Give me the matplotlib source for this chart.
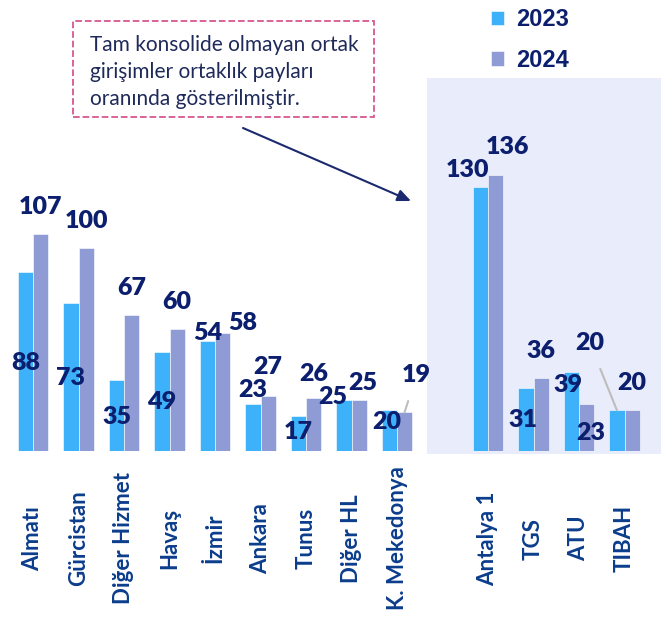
import numpy as np
import matplotlib
matplotlib.use('Agg')
import matplotlib.pyplot as plt
from matplotlib.patches import Rectangle

# veriler
kategoriler = ['Almatı', 'Gürcistan', 'Diğer Hizmet', 'Havaş', 'İzmir', 'Ankara',
               'Tunus', 'Diğer HL', 'K. Mekedonya',
               'Antalya 1', 'TGS', 'ATU', 'TIBAH']
deger_2023 = [88, 73, 35, 49, 54, 23, 17, 25, 20, 130, 31, 39, 20]
deger_2024 = [107, 100, 67, 60, 58, 27, 26, 25, 19, 136, 36, 23, 20]
seri_adlari = ['2023', '2024']
not_metni = 'Tam konsolide olmayan ortak\ngirişimler ortaklık payları\noranında gösterilmiştir.'

# etiket kaydırmaları (piksel), çubuk tepesine göre
ofs_2023 = [(0, -91), (0, -75), (0, -37), (0, -50), (0, 8), (0, 14), (0, -16),
            (-11, 3), (-3, -12), (-13, 17), (-3, -32), (-4, -13), (-27, 67)]
ofs_2024 = [(0, 27), (0, 27), (0, 27), (0, 27), (20, 10), (0, 29), (0, 24),
            (4, 17), (12, 37), (12, 28), (0, 27), (4, -29), (0, 27)]
cizgili_2023 = [12]   # TIBAH
cizgili_2024 = [8]    # K. Mekedonya

renk_2023 = '#3db2fb'
renk_2024 = '#8e9bd4'
lacivert = '#0c1f6e'
eksen_mavi = '#0b3d8c'

W, H = 661, 637
fig = plt.figure(figsize=(W / 100, H / 100), dpi=100)
ax = fig.add_axes([0, 186 / H, 1, 451 / H])
ax.patch.set_alpha(0)

# grup konumları: ilk 9 yan yana, sonra bir boşluk
x = np.array(list(range(9)) + list(range(10, 14)), dtype=float)
w = 0.33

# vurgulu alan
ax.add_patch(Rectangle((427 / W, (H - 454) / H), 1 - 427 / W, 376 / H,
                       transform=fig.transFigure, facecolor='#e8ecfb',
                       edgecolor='none', zorder=0, clip_on=False))

b1 = ax.bar(x - w / 2, deger_2023, w, color=renk_2023, edgecolor='white', linewidth=0.4, zorder=2, label=seri_adlari[0])
b2 = ax.bar(x + w / 2, deger_2024, w, color=renk_2024, edgecolor='white', linewidth=0.4, zorder=2, label=seri_adlari[1])

etiket_font = dict(family='Lato', fontsize=18, fontweight='heavy', color=lacivert)
for i in range(len(x)):
    for xs, val, ofs, cz in ((x[i] - w / 2, deger_2023[i], ofs_2023[i], cizgili_2023),
                              (x[i] + w / 2, deger_2024[i], ofs_2024[i], cizgili_2024)):
        ap = None
        if i in cz:
            ap = dict(arrowstyle='-', color='#bdbdbd', lw=1.5, shrinkA=9, shrinkB=0)
        ax.annotate(str(val), xy=(xs, val), xytext=ofs, textcoords='offset pixels',
                    ha='center', va='center', zorder=3, arrowprops=ap, **etiket_font)

ax.set_xlim(-33 / 45.5, (W - 33) / 45.5)
ax.set_ylim(0, 451 / 2.03)
ax.set_xticks(x)
ax.set_xticklabels(kategoriler, rotation=90, va='center', ha='center',
                   family='Lato', fontsize=16, fontweight='bold', color=eksen_mavi)
ax.tick_params(axis='x', length=0, pad=63)
ax.set_yticks([])
for s in ax.spines.values():
    s.set_visible(False)

# lejant
fig.legend(handles=[b1, b2], labels=seri_adlari, loc='upper left',
           bbox_to_anchor=(482 / W, 1 + 1 / H), frameon=False, borderaxespad=0,
           prop=dict(family='Liberation Sans', weight='bold', size=17),
           labelcolor=lacivert, handlelength=0.55, handleheight=0.55,
           labelspacing=0.74, handletextpad=0.5)

# not kutusu
fig.add_artist(Rectangle((73 / W, (H - 117) / H), 301 / W, 96 / H, transform=fig.transFigure,
                         fill=False, linestyle='--', edgecolor='#d6588e', linewidth=1.3))
fig.text(90 / W, (H - 72) / H, not_metni, ha='left', va='center', family='Lato',
         fontsize=15, color='#1f2a5a', linespacing=1.45)

# ok
ax.annotate('', xy=(411, H - 201), xytext=(243, H - 128), xycoords='figure pixels',
            textcoords='figure pixels',
            arrowprops=dict(arrowstyle='-|>,head_length=0.8,head_width=0.35',
                            color='#1b2a6e', lw=1.5, shrinkA=0, shrinkB=0))

fig.savefig('out.png', dpi=100)
